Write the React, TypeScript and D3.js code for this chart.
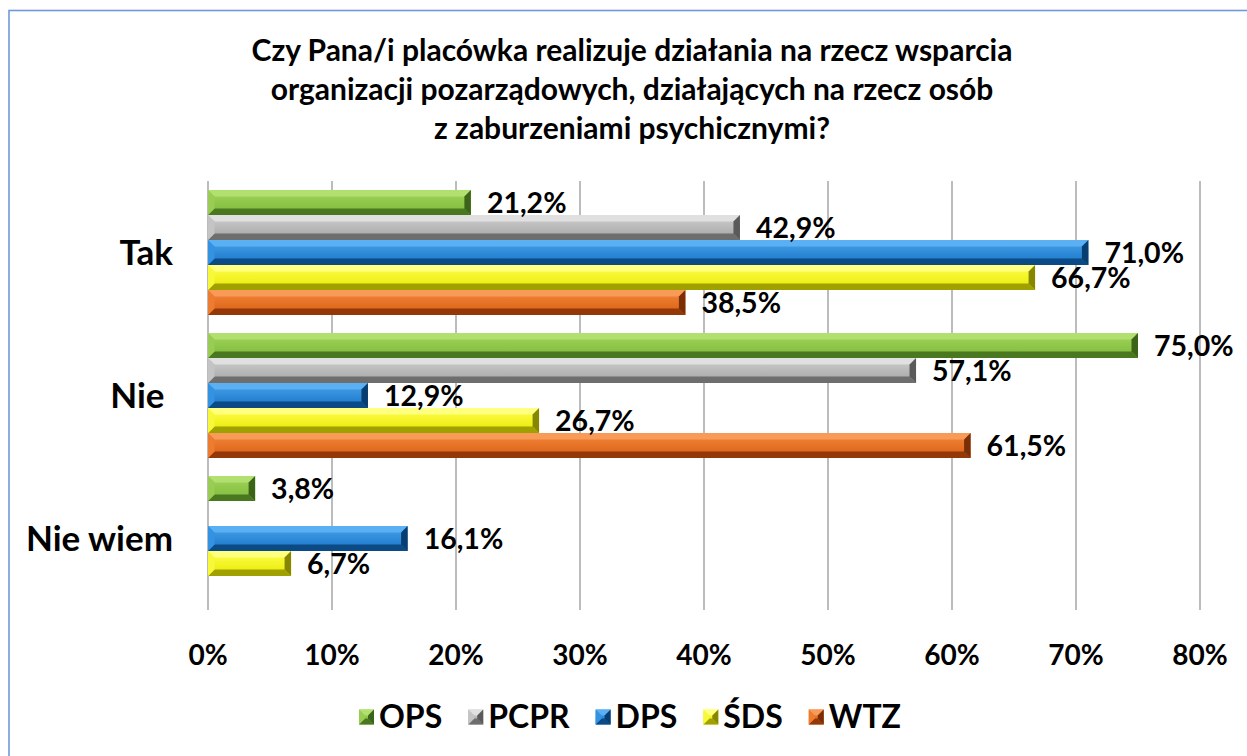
import React, { useEffect, useRef } from "react";
import * as d3 from "d3";

const titleLines = [
  "Czy Pana/i placówka realizuje działania na rzecz wsparcia",
  "organizacji pozarządowych, działających na rzecz osób",
  "z zaburzeniami psychicznymi?",
];
const categories = ["Tak", "Nie ", "Nie wiem"];
const series = ["OPS", "PCPR", "DPS", "ŚDS", "WTZ"];
const OPS = [21.2, 75.0, 3.8];
const PCPR = [42.9, 57.1, 0];
const DPS = [71.0, 12.9, 16.1];
const SDS = [66.7, 26.7, 6.7];
const WTZ = [38.5, 61.5, 0];
const seriesValues = [OPS, PCPR, DPS, SDS, WTZ];
const xTicks = [0, 10, 20, 30, 40, 50, 60, 70, 80];

const palette = [
  { top: "#a2d65a", face: "#7db83a", light: "#b2e070", mid: "#98cc52", dark: "#4a7820", end: "#3c6418" },
  { top: "#cfcfcf", face: "#a4a4a4", light: "#e0e0e0", mid: "#c4c4c4", dark: "#6e6e6e", end: "#5a5a5a" },
  { top: "#4aa3ea", face: "#1673c8", light: "#5ab0f2", mid: "#3392e2", dark: "#0b4a85", end: "#083d70" },
  { top: "#ffff50", face: "#e8e800", light: "#ffff80", mid: "#f8f83a", dark: "#a0a000", end: "#868600" },
  { top: "#f4883a", face: "#d85e14", light: "#f89a58", mid: "#ee7c30", dark: "#943808", end: "#7a2e06" },
];

const FONT = "Lato, 'Liberation Sans', sans-serif";

function bevel(g: any, x0: number, y0: number, x1: number, y1: number, c: any, bMax: number, gid: string) {
  const w = x1 - x0;
  const h = y1 - y0;
  if (w <= 0 || h <= 0) return;
  const b = Math.min(bMax, w / 2, h / 2);
  g.append("rect").attr("x", x0).attr("y", y0).attr("width", w).attr("height", h).attr("fill", `url(#${gid})`);
  const poly = (pts: number[][], fill: string) =>
    g.append("polygon").attr("points", pts.map((p) => p.join(",")).join(" ")).attr("fill", fill);
  poly([[x0, y0], [x1, y0], [x1 - b, y0 + b], [x0 + b, y0 + b]], c.light);
  poly([[x0, y1], [x1, y1], [x1 - b, y1 - b], [x0 + b, y1 - b]], c.dark);
  poly([[x0, y0], [x0 + b, y0 + b], [x0 + b, y1 - b], [x0, y1]], c.mid);
  poly([[x1, y0], [x1 - b, y0 + b], [x1 - b, y1 - b], [x1, y1]], c.end);
}

export default function App() {
  const ref = useRef<SVGSVGElement | null>(null);

  useEffect(() => {
    document.body.style.margin = "0";
    document.body.style.overflow = "hidden";
    const svg = d3.select(ref.current);
    svg.selectAll("*").remove();

    const W = 1247, H = 756;
    const defs = svg.append("defs");
    palette.forEach((c, i) => {
      const lg = defs.append("linearGradient").attr("id", `face${i}`).attr("x1", 0).attr("y1", 0).attr("x2", 0).attr("y2", 1);
      lg.append("stop").attr("offset", "0").attr("stop-color", c.top);
      lg.append("stop").attr("offset", "1").attr("stop-color", c.face);
    });

    svg.append("rect").attr("width", W).attr("height", H).attr("fill", "#ffffff");
    svg.append("rect").attr("x", 9).attr("y", 10.5).attr("width", W + 50).attr("height", H + 50)
      .attr("fill", "none").attr("stroke", "#6f9ad8").attr("stroke-width", 1.6);

    // title
    const title = svg.append("text").attr("text-anchor", "middle").attr("font-family", FONT)
      .attr("font-weight", 700).attr("font-size", 30).attr("fill", "#000");
    titleLines.forEach((l, i) => {
      title.append("tspan").attr("x", 632).attr("y", 61 + i * 39).text(l);
    });

    const x = d3.scaleLinear().domain([0, 80]).range([208, 1200]);
    const y = d3.scaleBand<string>().domain(categories).range([181, 610]);
    const yInner = d3.scaleBand<string>().domain(series).range([0, y.bandwidth()]).paddingOuter(0.36);

    // gridlines
    svg.append("g").selectAll("line").data(xTicks).join("line")
      .attr("x1", (d) => x(d)).attr("x2", (d) => x(d))
      .attr("y1", 181).attr("y2", 610)
      .attr("stroke", "#a6a6a6").attr("stroke-width", 1.5);

    // x tick labels
    svg.append("g").selectAll("text").data(xTicks).join("text")
      .attr("x", (d) => x(d)).attr("y", 665).attr("text-anchor", "middle")
      .attr("font-family", FONT).attr("font-weight", 700).attr("font-size", 28)
      .text((d) => `${d}%`);

    // category labels
    svg.append("g").selectAll("text").data(categories).join("text")
      .attr("x", 173).attr("y", (d) => (y(d) as number) + y.bandwidth() / 2 + 12)
      .attr("text-anchor", "end").attr("font-family", FONT).attr("font-weight", 700)
      .attr("font-size", 35).style("white-space", "pre").text((d) => d);

    // bars
    const bars = svg.append("g");
    const labels = svg.append("g");
    categories.forEach((cat, ci) => {
      series.forEach((s, si) => {
        const v = seriesValues[si][ci];
        if (!v) return;
        const y0 = (y(cat) as number) + (yInner(s) as number);
        const y1 = y0 + yInner.bandwidth();
        bevel(bars.append("g"), x(0), y0, x(v), y1, palette[si], 6.5, `face${si}`);
        labels.append("text").attr("x", x(v) + 16).attr("y", (y0 + y1) / 2 + 10)
          .attr("font-family", FONT).attr("font-weight", 700).attr("font-size", 28.5)
          .text(v.toFixed(1).replace(".", ",") + "%");
      });
    });

    // legend
    const lg = svg.append("g");
    let cx = 0;
    series.forEach((s, si) => {
      const g = lg.append("g");
      bevel(g, cx, -7.5, cx + 15, 7.5, palette[si], 6, `face${si}`);
      const t = g.append("text").attr("x", cx + 20).attr("y", 11).attr("font-family", FONT)
        .attr("font-weight", 700).attr("font-size", 32).text(s);
      const tw = (t.node() as SVGTextElement).getComputedTextLength();
      cx += 20 + tw + (si < series.length - 1 ? 26 : 0);
    });
    lg.attr("transform", `translate(${630 - cx / 2},717)`);
  }, []);

  return (
    <svg ref={ref} width={1247} height={756} style={{ position: "absolute", left: 0, top: 0, display: "block" }} />
  );
}
